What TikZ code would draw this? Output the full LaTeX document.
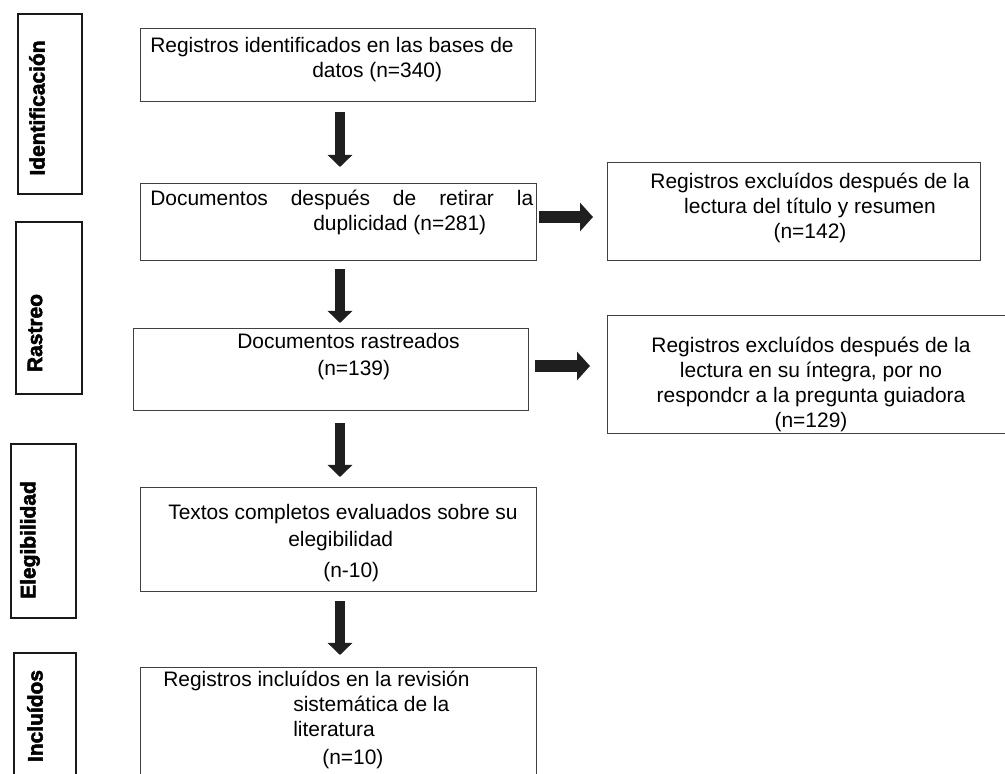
\documentclass[tikz,border=0pt]{standalone}
\usepackage{fontspec}
\setmainfont{Liberation Sans}
\newfontfamily\phasefont{Liberation Sans}[FakeBold=2.5]
\usetikzlibrary{arrows.meta}

\newlength{\px}
\setlength{\px}{0.025cm}
\newcommand{\fstrut}{\rule{0pt}{20\px}}

\begin{document}
\begin{tikzpicture}[x=0.025cm, y=-0.025cm,
    box/.style={draw=black!75, line width=1.3\px, anchor=north west, inner sep=0pt},
    phasebox/.style={draw=black!90, line width=1.8\px, anchor=north west, inner sep=0pt},
    phase/.style={rotate=90, inner sep=0pt, font=\phasefont\fontsize{14.9}{17.8}\selectfont},
    txt/.style={anchor=north west, inner sep=0pt, align=left, font=\fontsize{14.9}{17.8}\selectfont},
    ctxt/.style={anchor=north, inner sep=0pt, align=center, font=\fontsize{14.9}{17.8}\selectfont},
    darr/.style={draw=black!88, line width=0.25cm, -{Triangle[width=0.6cm,length=0.3cm]}},
    rarr/.style={draw=black!88, line width=0.3cm, -{Triangle[width=0.7cm,length=0.325cm]}}]

  \useasboundingbox (0,0) rectangle (1005,774);
  \clip (0,0) rectangle (1005,774);

  % phases on the left
  \node[phasebox, minimum width=64\px, minimum height=180\px] (pid) at (17,13) {};
  \node[phasebox, minimum width=66\px, minimum height=172\px] (pra) at (15,221) {};
  \node[phasebox, minimum width=65\px, minimum height=174\px] (pel) at (10,443) {};
  \node[phasebox, minimum width=62\px, minimum height=150\px] (pin) at (13,652) {};

  \node[phase] (lid) at (37,108) {\bfseries Identificación};
  \node[phase] (lra) at (35,333) {\bfseries Rastreo};
  \node[phase] (lel) at (30,540) {\bfseries Elegibilidad};
  \node[phase] (lin) at (35,716) {\bfseries Incluídos};

  % main column
  \node[box, minimum width=395\px, minimum height=73\px]  (b1) at (140,28) {};
  \node[box, minimum width=396\px, minimum height=77\px]  (b2) at (140,183) {};
  \node[box, minimum width=395\px, minimum height=82\px]  (b3) at (133,328) {};
  \node[box, minimum width=396\px, minimum height=104\px] (b4) at (140,487) {};
  \node[box, minimum width=396\px, minimum height=140\px] (b5) at (140,667) {};

  \node[txt] (t1) at (150,32) {\fstrut Registros identificados en las bases de\\
    \hspace*{162\px}datos (n=340)};
  \node[txt] (t2) at (150,185) {\fstrut\makebox[383\px][s]{Documentos\hfill después\hfill de\hfill retirar\hfill la}\\
    \hspace*{163\px}duplicidad (n=281)};
  \node[txt] (t3) at (237,328) {\fstrut Documentos rastreados\\[2\px]
    \hspace*{80\px}(n=139)};
  \node[txt] (t4) at (168,499) {\fstrut Textos completos evaluados sobre su\\[2\px]
    \hspace*{120\px}elegibilidad\\[6\px]
    \hspace*{155\px}(n-10)};
  \node[txt] (t5) at (163,666) {\fstrut Registros incluídos en la revisión\\
    \hspace*{130\px}sistemática de la\\
    \hspace*{130\px}literatura\\[3\px]
    \hspace*{159\px}(n=10)};

  % excluded on the right
  \node[box, minimum width=373\px, minimum height=98\px]  (r1) at (607,162) {};
  \node[box, minimum width=420\px, minimum height=118\px] (r2) at (607,315) {};

  \node[ctxt] (tr1) at (810,168) {\fstrut Registros excluídos después de la\\
    lectura del título y resumen\\
    (n=142)};
  \node[ctxt] (tr2) at (811,332) {\fstrut Registros excluídos después de la\\
    lectura en su íntegra, por no\\
    respondcr a la pregunta guiadora\\
    (n=129)};

  % arrows
  \coordinate (ax) at (340,0);
  \coordinate (ay1) at (0,217);
  \coordinate (ay2) at (0,366);

  \draw[darr, shorten <=0.25cm, shorten >=0.4cm]  (b1.south -| ax) -- (b2.north -| ax);
  \draw[darr, shorten <=0.2cm,  shorten >=0.125cm] (b2.south -| ax) -- (b3.north -| ax);
  \draw[darr, shorten <=0.3cm,  shorten >=0.25cm] (b3.south -| ax) -- (b4.north -| ax);
  \draw[darr, shorten <=0.225cm, shorten >=0.3cm] (b4.south -| ax) -- (b5.north -| ax);

  \draw[rarr, shorten <=0.05cm, shorten >=0.35cm]  (b2.east |- ay1) -- (r1.west |- ay1);
  \draw[rarr, shorten <=0.15cm, shorten >=0.425cm] (b3.east |- ay2) -- (r2.west |- ay2);
\end{tikzpicture}
\end{document}
